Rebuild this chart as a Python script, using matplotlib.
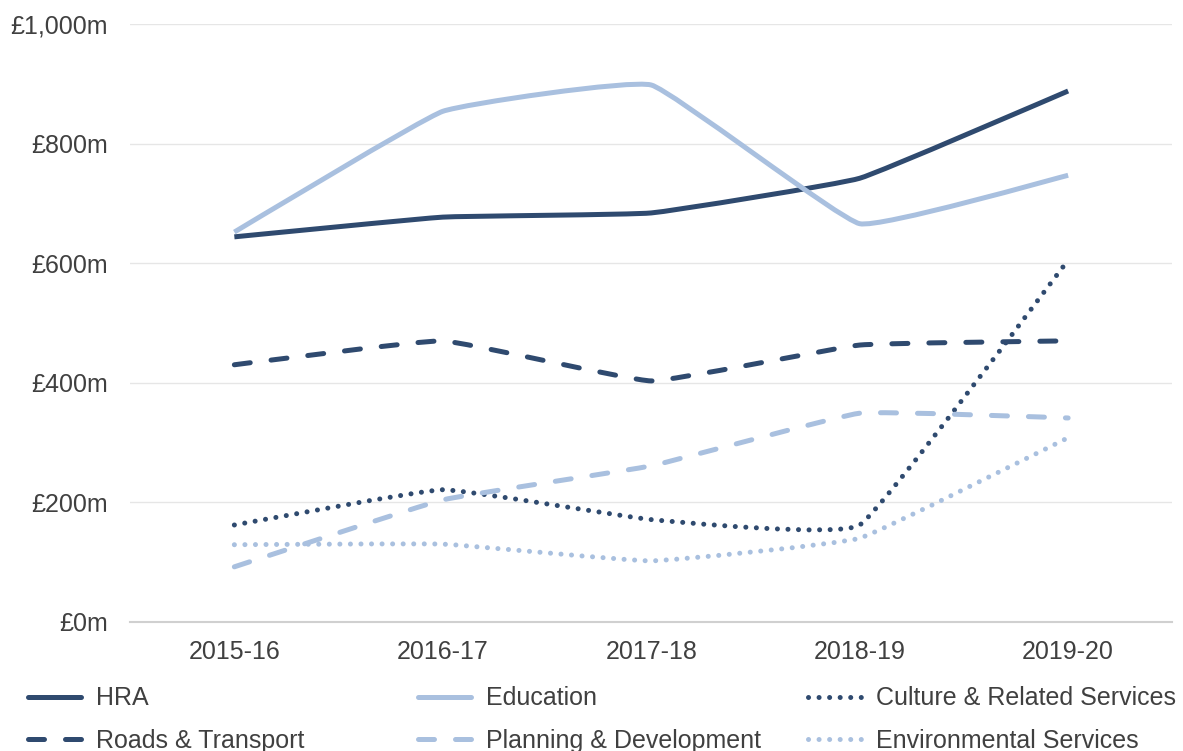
import matplotlib
matplotlib.use("Agg")
import matplotlib.pyplot as plt
from matplotlib.path import Path
from matplotlib.patches import PathPatch
from matplotlib.lines import Line2D
from matplotlib.ticker import FuncFormatter

plt.rcParams["font.family"] = ["Liberation Sans", "DejaVu Sans"]

years = ["2015-16", "2016-17", "2017-18", "2018-19", "2019-20"]
hra = [644, 677, 684, 742, 888]
education = [652, 854, 898, 666, 747]
culture = [162, 221, 171, 162, 605]
roads = [430, 470, 403, 463, 470]
planning = [92, 204, 261, 349, 341]
environmental = [129, 130, 102, 140, 308]

DARK = "#2F4A6F"
LIGHT = "#A9C0DF"
TEXT = "#404040"
LW = 3.6

DASH = (0, (3.2, 4.2))
DOT = (0, (0.01, 2.1))

series = [
    ("HRA", hra, DARK, "-"),
    ("Education", education, LIGHT, "-"),
    ("Culture & Related Services", culture, DARK, DOT),
    ("Roads & Transport", roads, DARK, DASH),
    ("Planning & Development", planning, LIGHT, DASH),
    ("Environmental Services", environmental, LIGHT, DOT),
]


def smooth_path(xs, ys, k=0.05):
    # light bezier smoothing between the points, like Excel's smoothed lines
    pts = list(zip(xs, ys))
    verts = [pts[0]]
    codes = [Path.MOVETO]
    n = len(pts)
    for i in range(n - 1):
        p0 = pts[i - 1] if i > 0 else pts[i]
        p1 = pts[i]
        p2 = pts[i + 1]
        p3 = pts[i + 2] if i + 2 < n else pts[i + 1]
        c1 = (p1[0] + (p2[0] - p0[0]) * k, p1[1] + (p2[1] - p0[1]) * k)
        c2 = (p2[0] - (p3[0] - p1[0]) * k, p2[1] - (p3[1] - p1[1]) * k)
        verts += [c1, c2, p2]
        codes += [Path.CURVE4] * 3
    return Path(verts, codes)


fig = plt.figure(figsize=(11.83, 7.51), dpi=100)
ax = fig.add_axes([0.110, 0.172, 0.881, 0.796])

x = list(range(len(years)))
handles = {}
for name, vals, color, ls in series:
    cap = "butt" if ls == "-" else "round"
    patch = PathPatch(smooth_path(x, vals), fill=False, edgecolor=color,
                      linewidth=LW, linestyle=ls, capstyle=cap,
                      joinstyle="round", zorder=3)
    ax.add_patch(patch)
    handles[name] = Line2D([], [], color=color, linewidth=LW, linestyle=ls,
                           dash_capstyle=cap, solid_capstyle="round")

ax.set_xlim(-0.5, len(years) - 0.5)
ax.set_ylim(0, 1000)
ax.set_yticks([0, 200, 400, 600, 800, 1000])
ax.yaxis.set_major_formatter(FuncFormatter(lambda v, p: f"£{v:,.0f}m"))
ax.set_xticks(x)
ax.set_xticklabels(years)
ax.tick_params(axis="both", length=0, labelsize=18, colors=TEXT)
ax.tick_params(axis="x", pad=13)
ax.tick_params(axis="y", pad=16)
ax.grid(axis="y", color="#E6E6E6", linewidth=1.0, zorder=0)
for side in ["top", "right", "left"]:
    ax.spines[side].set_visible(False)
ax.spines["bottom"].set_color("#D0D0D0")
ax.spines["bottom"].set_linewidth(1.5)

# legend: three columns of two entries each
columns = [["HRA", "Roads & Transport"],
           ["Education", "Planning & Development"],
           ["Culture & Related Services", "Environmental Services"]]
col_x = [28 / 1183, 418 / 1183, 808 / 1183]
for cx, names in zip(col_x, columns):
    fig.legend([handles[k] for k in names], names, loc="upper left",
               bbox_to_anchor=(cx, 0.086), frameon=False, fontsize=18,
               labelcolor=TEXT, handlelength=2.1, handletextpad=0.6,
               labelspacing=0.75, borderpad=0, borderaxespad=0)

fig.savefig("out.png", dpi=100)
